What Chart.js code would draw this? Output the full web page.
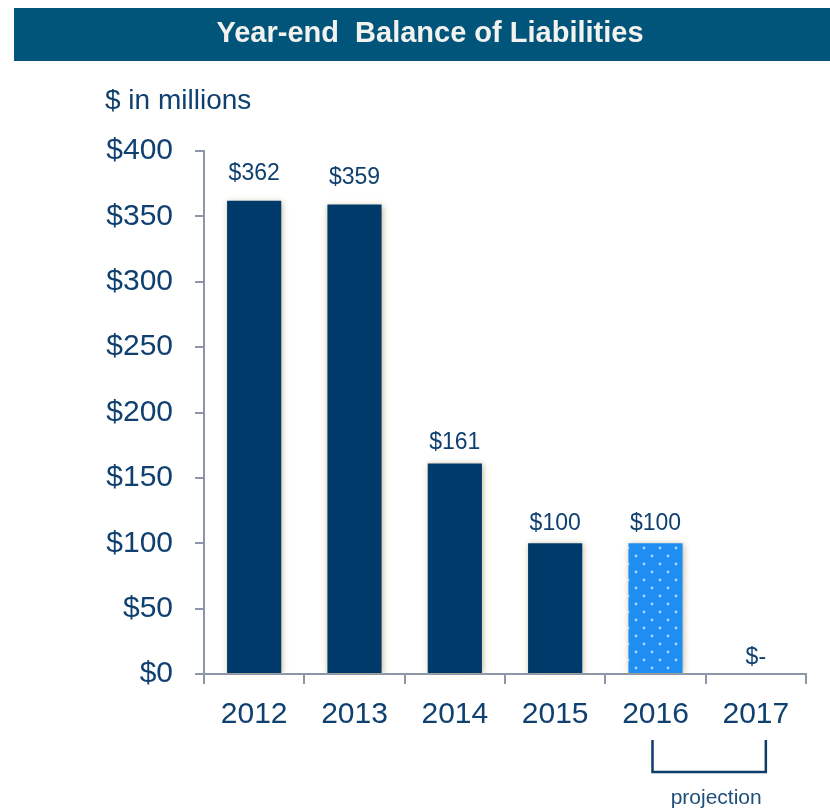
<!DOCTYPE html>
<html>
<head>
<meta charset="utf-8">
<title>Year-end Balance of Liabilities</title>
<script src="https://cdn.jsdelivr.net/npm/chart.js@4/dist/chart.umd.min.js"></script>
<style>
    html, body { margin: 0; padding: 0; background: #fff; }
    #wrap { width: 830px; height: 809px; position: relative; }
</style>
</head>
<body>
<div id="wrap"><canvas id="liabChart" width="830" height="809"></canvas></div>
<script>
const years = ["2012", "2013", "2014", "2015", "2016", "2017"];
const balances = [362, 359, 161, 100, 100, 0];
const valueLabels = ["$362", "$359", "$161", "$100", "$100", "$-"];
const yTicks = [0, 50, 100, 150, 200, 250, 300, 350, 400];
const projected = [false, false, false, false, true, true];

const NAVY = "#003a6a";
const TEXT = "#0f406f";
const AXIS = "#8c96a8";
const FONT = "'Liberation Sans', Arial, sans-serif";

// dotted fill for the projected year
function dotPattern() {
    let c = document.createElement("canvas");
    c.width = 16;
    c.height = 16;
    let g = c.getContext("2d");
    g.fillStyle = "#1e8ef2";
    g.fillRect(0, 0, 16, 16);
    g.fillStyle = "#a8d6ff";
    [[4, 4], [12, 12]].forEach(p => {
        g.beginPath();
        g.arc(p[0], p[1], 1.4, 0, Math.PI * 2);
        g.fill();
    });
    return g.createPattern(c, "repeat");
}

const pattern = dotPattern();

const barShadow = {
    id: "barShadow",
    beforeDatasetDraw(chart) {
        let ctx = chart.ctx;
        ctx.save();
        ctx.shadowColor = "rgba(180,170,135,0.85)";
        ctx.shadowBlur = 6;
        ctx.shadowOffsetX = 1;
        ctx.shadowOffsetY = 1;
    },
    afterDatasetDraw(chart) {
        chart.ctx.restore();
    }
};

const decorations = {
    id: "decorations",
    beforeDraw(chart) {
        let ctx = chart.ctx;
        ctx.save();
        // title bar
        ctx.fillStyle = "#02557a";
        ctx.fillRect(14, 8, 816, 53);
        ctx.fillStyle = "#f2f2ee";
        ctx.font = "bold 29px " + FONT;
        ctx.textAlign = "center";
        ctx.textBaseline = "middle";
        ctx.fillText("Year-end  Balance of Liabilities", 430, 34);

        ctx.fillStyle = TEXT;
        ctx.font = "28px " + FONT;
        ctx.textAlign = "left";
        ctx.textBaseline = "alphabetic";
        ctx.fillText("$ in millions", 105, 109);
        ctx.restore();
    },
    afterDraw(chart) {
        let ctx = chart.ctx;
        let x = chart.scales.x, y = chart.scales.y;
        ctx.save();

        // value labels above each bar
        ctx.fillStyle = TEXT;
        ctx.font = "23px " + FONT;
        ctx.textAlign = "center";
        ctx.textBaseline = "alphabetic";
        balances.forEach((v, i) => {
            let gap = 10 + v * 0.03;
            ctx.fillText(valueLabels[i], x.getPixelForValue(i), y.getPixelForValue(v) - gap);
        });

        // bracket under the projected years
        let idx = projected.map((p, i) => p ? i : -1).filter(i => i >= 0);
        let left = x.getPixelForValue(idx[0]) - 3;
        let right = x.getPixelForValue(idx[idx.length - 1]) + 10;
        ctx.strokeStyle = "#0d3d6c";
        ctx.lineWidth = 2.5;
        ctx.beginPath();
        ctx.moveTo(left, 740);
        ctx.lineTo(left, 772);
        ctx.lineTo(right, 772);
        ctx.lineTo(right, 740);
        ctx.stroke();

        ctx.fillStyle = "#1f4e79";
        ctx.font = "21px " + FONT;
        ctx.fillText("projection", (left + right) / 2 + 7, 804);
        ctx.restore();
    }
};

new Chart(document.getElementById("liabChart"), {
    type: "bar",
    data: {
        labels: years,
        datasets: [{
            data: balances,
            backgroundColor: balances.map((v, i) => projected[i] ? pattern : NAVY),
            borderWidth: 0,
            barPercentage: 0.54,
            categoryPercentage: 1
        }]
    },
    options: {
        responsive: false,
        animation: false,
        devicePixelRatio: 1,
        layout: { padding: { top: 151, right: 24, bottom: 0, left: 0 } },
        plugins: {
            legend: { display: false },
            tooltip: { enabled: false }
        },
        scales: {
            x: {
                offset: true,
                afterFit: s => { s.height = 135; },
                border: { color: AXIS, width: 2 },
                grid: {
                    offset: true,
                    drawOnChartArea: false,
                    tickLength: 10,
                    color: AXIS,
                    lineWidth: 2
                },
                ticks: {
                    color: TEXT,
                    padding: 13,
                    font: { family: FONT, size: 30 }
                }
            },
            y: {
                min: yTicks[0],
                max: yTicks[yTicks.length - 1],
                afterFit: s => { s.width = 204; },
                afterBuildTicks: s => { s.ticks = yTicks.map(v => ({ value: v })); },
                border: { color: AXIS, width: 2 },
                grid: {
                    drawOnChartArea: false,
                    tickLength: 9,
                    color: AXIS,
                    lineWidth: 2
                },
                ticks: {
                    color: TEXT,
                    padding: 22,
                    font: { family: FONT, size: 30 },
                    callback: v => "$" + v
                }
            }
        }
    },
    plugins: [barShadow, decorations]
});
</script>
</body>
</html>
